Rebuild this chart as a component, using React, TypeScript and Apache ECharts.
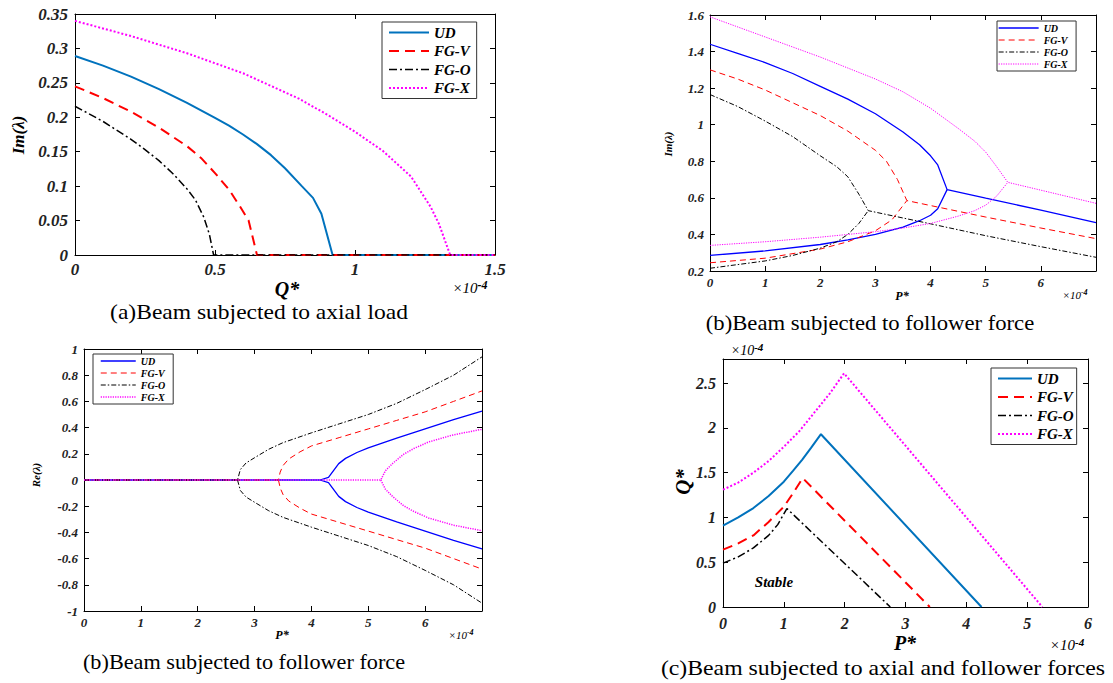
import React, { useEffect, useRef } from 'react';
import * as echarts from 'echarts';

const SERIF = '"Liberation Serif", "Times New Roman", serif';

// ---------- Panel (a): Im(λ) vs Q*, axial load ----------
const aUD = [[0, 0.289], [0.1, 0.275], [0.2, 0.259], [0.3, 0.241], [0.4, 0.221], [0.5, 0.199], [0.55, 0.188], [0.6, 0.175], [0.65, 0.161], [0.7, 0.145], [0.75, 0.126], [0.81, 0.1], [0.85, 0.083], [0.88, 0.06], [0.92, 0], [1.5, 0]];
const aFGV = [[0, 0.245], [0.1, 0.228], [0.2, 0.208], [0.3, 0.185], [0.4, 0.158], [0.45, 0.141], [0.5, 0.119], [0.55, 0.095], [0.59, 0.07], [0.62, 0.05], [0.65, 0], [1.5, 0]];
const aFGO = [[0, 0.216], [0.1, 0.194], [0.2, 0.168], [0.25, 0.153], [0.3, 0.137], [0.35, 0.118], [0.4, 0.096], [0.43, 0.08], [0.46, 0.055], [0.48, 0.03], [0.495, 0], [1.5, 0]];
const aFGX = [[0, 0.34], [0.2, 0.318], [0.4, 0.293], [0.6, 0.264], [0.8, 0.227], [0.9, 0.204], [1.0, 0.179], [1.1, 0.151], [1.2, 0.114], [1.27, 0.07], [1.3, 0.045], [1.34, 0], [1.5, 0]];

// ---------- Panel (b): Im(λ) vs P*, follower force ----------
const bUDUpper = [[0, 1.44], [0.5, 1.39], [1, 1.34], [1.5, 1.28], [2, 1.21], [2.5, 1.14], [3, 1.06], [3.5, 0.96], [3.8, 0.89], [4, 0.83], [4.13, 0.78], [4.3, 0.645], [5, 0.598], [6, 0.533], [7, 0.465]];
const bUDLower = [[0, 0.285], [1, 0.31], [2, 0.345], [2.5, 0.37], [3, 0.4], [3.5, 0.44], [3.8, 0.475], [4, 0.505], [4.13, 0.54], [4.3, 0.645]];
const bFGVUpper = [[0, 1.3], [0.5, 1.25], [1, 1.19], [1.5, 1.12], [2, 1.05], [2.5, 0.965], [3, 0.86], [3.2, 0.8], [3.4, 0.7], [3.57, 0.585], [5, 0.495], [6, 0.435], [7, 0.377]];
const bFGVLower = [[0, 0.245], [1, 0.27], [2, 0.32], [2.5, 0.36], [3, 0.42], [3.3, 0.48], [3.57, 0.585]];
const bFGOUpper = [[0, 1.165], [0.5, 1.1], [1, 1.02], [1.5, 0.935], [2, 0.83], [2.3, 0.77], [2.5, 0.715], [2.7, 0.62], [2.87, 0.53], [4, 0.458], [5, 0.393], [6, 0.333], [7, 0.275]];
const bFGOLower = [[0, 0.215], [1, 0.255], [1.5, 0.285], [2, 0.325], [2.3, 0.36], [2.5, 0.4], [2.7, 0.46], [2.87, 0.53]];
const bFGXUpper = [[0, 1.59], [1, 1.48], [2, 1.37], [3, 1.25], [3.5, 1.18], [4, 1.09], [4.5, 0.98], [4.8, 0.91], [5, 0.85], [5.2, 0.77], [5.4, 0.685], [6, 0.642], [7, 0.57]];
const bFGXLower = [[0, 0.34], [1, 0.36], [2, 0.385], [3, 0.415], [3.5, 0.435], [4, 0.46], [4.5, 0.5], [4.8, 0.53], [5, 0.56], [5.2, 0.61], [5.4, 0.685]];

// ---------- Panel (b'): Re(λ) vs P*, follower force ----------
const cUDUpper = [[0, 0], [4.15, 0], [4.3, 0.02], [4.48, 0.125], [4.6, 0.165], [4.8, 0.21], [5, 0.245], [5.5, 0.32], [6, 0.39], [6.5, 0.46], [7, 0.525]];
const cUDLower = [[4.15, 0], [4.3, -0.02], [4.48, -0.125], [4.6, -0.165], [4.8, -0.21], [5, -0.245], [5.5, -0.32], [6, -0.39], [6.5, -0.46], [7, -0.525]];
const cFGVUpper = [[0, 0], [3.42, 0], [3.45, 0.06], [3.5, 0.11], [3.6, 0.16], [3.8, 0.215], [4, 0.26], [4.5, 0.325], [5, 0.39], [5.5, 0.455], [6, 0.52], [6.5, 0.6], [7, 0.68]];
const cFGVLower = [[3.42, 0], [3.45, -0.06], [3.5, -0.11], [3.6, -0.16], [3.8, -0.215], [4, -0.26], [4.5, -0.325], [5, -0.39], [5.5, -0.455], [6, -0.52], [6.5, -0.6], [7, -0.68]];
const cFGOUpper = [[0, 0], [2.7, 0], [2.75, 0.08], [2.85, 0.13], [3, 0.17], [3.25, 0.235], [3.5, 0.285], [4, 0.36], [4.5, 0.43], [5, 0.5], [5.5, 0.585], [6, 0.69], [6.5, 0.8], [7, 0.94]];
const cFGOLower = [[2.7, 0], [2.75, -0.08], [2.85, -0.13], [3, -0.17], [3.25, -0.235], [3.5, -0.285], [4, -0.36], [4.5, -0.43], [5, -0.5], [5.5, -0.585], [6, -0.69], [6.5, -0.8], [7, -0.94]];
const cFGXUpper = [[0, 0], [5.22, 0], [5.3, 0.07], [5.43, 0.127], [5.62, 0.196], [5.8, 0.24], [6.06, 0.29], [6.5, 0.345], [7, 0.387]];
const cFGXLower = [[5.22, 0], [5.3, -0.07], [5.43, -0.127], [5.62, -0.196], [5.8, -0.24], [6.06, -0.29], [6.5, -0.345], [7, -0.387]];

// ---------- Panel (c): stability boundary Q* vs P* ----------
const dUD = [[0, 0.91], [0.25, 1.0], [0.5, 1.105], [0.75, 1.24], [1, 1.4], [1.15, 1.52], [1.3, 1.644], [1.45, 1.78], [1.61, 1.93], [4.25, 0]];
const dFGV = [[0, 0.64], [0.25, 0.71], [0.5, 0.8], [0.75, 0.95], [1, 1.12], [1.15, 1.27], [1.31, 1.44], [3.4, 0]];
const dFGO = [[0, 0.49], [0.25, 0.56], [0.5, 0.66], [0.75, 0.8], [0.9, 0.92], [1.05, 1.1], [2.75, 0]];
const dFGX = [[0, 1.31], [0.25, 1.39], [0.5, 1.5], [0.75, 1.63], [1, 1.79], [1.25, 1.96], [1.5, 2.17], [1.75, 2.38], [1.99, 2.61], [5.25, 0]];

const NAMES = ['UD', 'FG-V', 'FG-O', 'FG-X'];

const BLUE_M = '#0072BD';
const BLUE = '#0000FF';
const RED = '#FF0000';
const BLACK = '#000000';
const MAG = '#FF00FF';

function xAxes(g: number, min: number, max: number, interval: number, fs: number, margin: number, hideMax: boolean) {
  const common: any = {
    type: 'value', gridIndex: g, min, max, interval,
    splitLine: { show: false },
    axisLine: { show: true, onZero: false, lineStyle: { color: '#000', width: 1 } },
    axisTick: { show: true, inside: true, length: 5, lineStyle: { color: '#000', width: 1 } },
  };
  const lbl: any = { show: true, margin, color: '#222', fontFamily: SERIF, fontStyle: 'italic', fontWeight: 'bold', fontSize: fs, showMinLabel: true };
  if (hideMax) lbl.showMaxLabel = false;
  return [
    { ...common, position: 'bottom', axisLabel: lbl },
    { ...common, position: 'top', axisLabel: { show: false } },
  ];
}

function yAxes(g: number, min: number, max: number, interval: number, fs: number, margin: number, hideMax: boolean) {
  const common: any = {
    type: 'value', gridIndex: g, min, max, interval,
    splitLine: { show: false },
    axisLine: { show: true, onZero: false, lineStyle: { color: '#000', width: 1 } },
    axisTick: { show: true, inside: true, length: 5, lineStyle: { color: '#000', width: 1 } },
  };
  const lbl: any = { show: true, margin, color: '#222', fontFamily: SERIF, fontStyle: 'italic', fontWeight: 'bold', fontSize: fs, showMinLabel: true };
  if (hideMax) lbl.showMaxLabel = false;
  return [
    { ...common, position: 'left', axisLabel: lbl },
    { ...common, position: 'right', axisLabel: { show: false } },
  ];
}

function line(name: string, data: number[][], g: number, color: string, width: number, type: any) {
  return {
    type: 'line', name, data, xAxisIndex: 2 * g, yAxisIndex: 2 * g,
    symbol: 'none', showSymbol: false, silent: true, clip: true,
    lineStyle: { color, width, type },
    itemStyle: { color },
  };
}

function legend(tag: string, left: number, top: number, itemWidth: number, itemHeight: number, gap: number, padding: number[], fs: number) {
  return {
    show: true, orient: 'vertical', left, top, itemWidth, itemHeight, itemGap: gap, padding,
    borderColor: '#333', borderWidth: 1, backgroundColor: '#fff', selectedMode: false,
    data: NAMES.map((n) => n + '#' + tag),
    formatter: (n: string) => n.split('#')[0],
    lineStyle: { width: 'inherit' },
    itemStyle: { color: 'rgba(0,0,0,0)', borderWidth: 0, opacity: 0 },
    textStyle: { fontFamily: SERIF, fontStyle: 'italic', fontWeight: 'bold', fontSize: fs, color: '#000' },
  };
}

function txt(x: number, y: number, text: string, size: number, o: any = {}) {
  return {
    type: 'text', x, y, rotation: o.rot || 0, scaleX: o.sx || 1, z: 100, silent: true,
    style: {
      text, fontFamily: SERIF, fontSize: size,
      fontStyle: o.italic ? 'italic' : 'normal',
      fontWeight: o.bold ? 'bold' : 'normal',
      fill: '#000',
      align: 'center', textAlign: 'center',
      verticalAlign: 'middle', textVerticalAlign: 'middle',
      rich: o.rich,
    },
  };
}

const sup = (fs: number, lift: number) => ({ s: { fontSize: fs, fontFamily: SERIF, fontStyle: 'italic', fontWeight: 'bold', padding: [0, 0, lift, 0], fill: '#000' } });

export default function App() {
  const ref = useRef<HTMLDivElement>(null);
  useEffect(() => {
    document.body.style.margin = '0';
    const chart = echarts.init(ref.current!, undefined, { renderer: 'svg' });
    const dashA = [10, 6];
    const dotDashA = [8, 3, 2, 3];
    const dotA = [2, 2];
    const dashB = [6, 4];
    const dotDashB = [5, 2, 1.5, 2];
    const dotB = [1.2, 1.2];

    const option: any = {
      animation: false,
      backgroundColor: '#fff',
      grid: [
        { left: 75, top: 14, width: 420, height: 241, containLabel: false },
        { left: 710, top: 15, width: 386, height: 256, containLabel: false },
        { left: 84, top: 349, width: 398, height: 262, containLabel: false },
        { left: 723, top: 359, width: 365, height: 248, containLabel: false },
      ],
      xAxis: [
        ...xAxes(0, 0, 1.5, 0.5, 17, 6, false),
        ...xAxes(1, 0, 7, 1, 13, 5, true),
        ...xAxes(2, 0, 7, 1, 13, 5, true),
        ...xAxes(3, 0, 6, 1, 16, 8, false),
      ],
      yAxis: [
        ...yAxes(0, 0, 0.35, 0.05, 17, 7, false),
        ...yAxes(1, 0.2, 1.6, 0.2, 13, 6, false),
        ...yAxes(2, -1, 1, 0.2, 13, 6, false),
        ...yAxes(3, 0, 2.77, 0.5, 16, 7, true),
      ],
      legend: [
        legend('a', 382, 22, 40, 12, 3.5, [3, 6, 3, 6], 15),
        legend('b', 997, 21, 40, 8.5, 2, [2, 8, 2, 1], 10),
        legend('c', 93, 354, 35, 8.5, 2, [2, 8, 2, 7], 10),
        legend('d', 991, 368, 34, 12.5, 3.5, [3, 3, 3, 6], 15),
      ],
      series: [
        line('UD#a', aUD, 0, BLUE_M, 2, 'solid'),
        line('FG-V#a', aFGV, 0, RED, 2, dashA),
        line('FG-O#a', aFGO, 0, BLACK, 1.5, dotDashA),
        line('FG-X#a', aFGX, 0, MAG, 2, dotA),

        line('UD#b', bUDUpper, 1, BLUE, 1.3, 'solid'),
        line('UD#b', bUDLower, 1, BLUE, 1.3, 'solid'),
        line('FG-V#b', bFGVUpper, 1, RED, 1, dashB),
        line('FG-V#b', bFGVLower, 1, RED, 1, dashB),
        line('FG-O#b', bFGOUpper, 1, BLACK, 1, dotDashB),
        line('FG-O#b', bFGOLower, 1, BLACK, 1, dotDashB),
        line('FG-X#b', bFGXUpper, 1, MAG, 1, dotB),
        line('FG-X#b', bFGXLower, 1, MAG, 1, dotB),

        line('UD#c', cUDUpper, 2, BLUE, 1.3, 'solid'),
        line('UD#c', cUDLower, 2, BLUE, 1.3, 'solid'),
        line('FG-V#c', cFGVUpper, 2, RED, 1, dashB),
        line('FG-V#c', cFGVLower, 2, RED, 1, dashB),
        line('FG-O#c', cFGOUpper, 2, BLACK, 1, dotDashB),
        line('FG-O#c', cFGOLower, 2, BLACK, 1, dotDashB),
        line('FG-X#c', cFGXUpper, 2, MAG, 1.5, dotB),
        line('FG-X#c', cFGXLower, 2, MAG, 1.5, dotB),

        line('UD#d', dUD, 3, BLUE_M, 2, 'solid'),
        line('FG-V#d', dFGV, 3, RED, 2, dashA),
        line('FG-O#d', dFGO, 3, BLACK, 1.5, dotDashA),
        line('FG-X#d', dFGX, 3, MAG, 2, dotA),
      ],
      graphic: [
        // panel (a)
        txt(18, 135, 'Im(λ)', 17, { rot: Math.PI / 2, italic: true, bold: true }),
        txt(287, 289, 'Q*', 20, { italic: true, bold: true }),
        txt(470, 288, '×10{s|-4}', 15, { italic: true, rich: sup(12, 7) }),
        txt(259, 312, '(a)Beam subjected to axial load', 22, { sx: 1.07 }),
        // panel (b)
        txt(668, 144, 'Im(λ)', 11, { rot: Math.PI / 2, italic: true, bold: true }),
        txt(902, 296, 'P*', 12, { italic: true, bold: true }),
        txt(1075, 295, '×10{s|-4}', 11, { italic: true, rich: sup(8, 5) }),
        txt(870, 323, '(b)Beam subjected to follower force', 22, { sx: 1.03 }),
        // panel (b')
        txt(36, 475, 'Re(λ)', 11, { rot: Math.PI / 2, italic: true, bold: true }),
        txt(282, 635, 'P*', 12, { italic: true, bold: true }),
        txt(461, 635, '×10{s|-4}', 11, { italic: true, rich: sup(8, 5) }),
        txt(244, 662, '(b)Beam subjected to follower force', 22, { sx: 1.01 }),
        // panel (c)
        txt(747, 350, '×10{s|-4}', 14, { italic: true, rich: sup(11, 7) }),
        txt(683, 482, 'Q*', 21, { rot: Math.PI / 2, italic: true, bold: true }),
        txt(905, 643, 'P*', 20, { italic: true, bold: true }),
        txt(1067, 645, '×10{s|-4}', 15, { italic: true, rich: sup(11, 7) }),
        txt(774, 582, 'Stable', 15, { italic: true, bold: true }),
        txt(883, 668, '(c)Beam subjected to axial and follower forces', 22, { sx: 1.08 }),
      ],
    };
    chart.setOption(option);
    return () => chart.dispose();
  }, []);
  return <div ref={ref} style={{ width: 1113, height: 683, background: '#fff' }} />;
}
